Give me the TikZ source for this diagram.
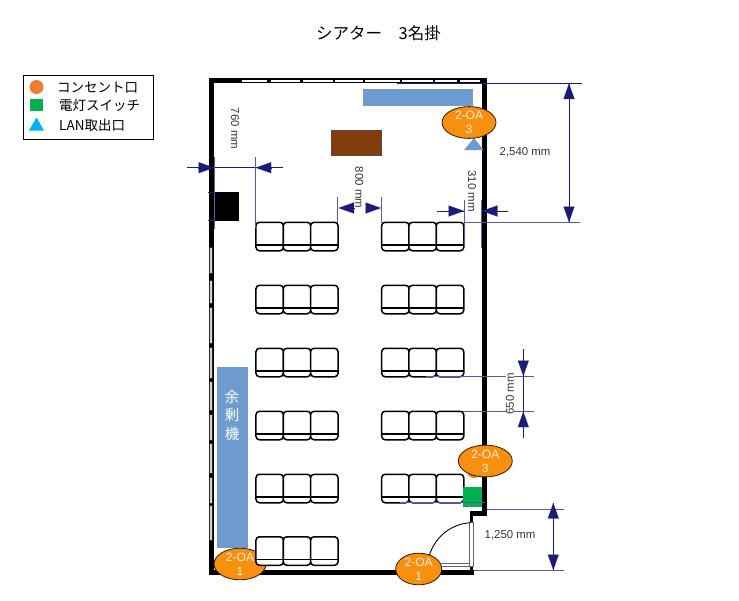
\documentclass[tikz,border=0pt]{standalone}
\usepackage{fontspec}
\setmainfont{Liberation Sans}
\newfontfamily\jpfont{Noto Sans CJK JP}
\usetikzlibrary{arrows.meta,shapes.geometric}
\definecolor{dimnavy}{HTML}{1B1B78}
\definecolor{dimthin}{HTML}{5A5AA0}
\definecolor{planblue}{HTML}{6E9CD0}
\definecolor{oaorange}{HTML}{F7900F}
\definecolor{outletorange}{HTML}{ED7D31}
\definecolor{switchgreen}{HTML}{00B050}
\definecolor{lanblue}{HTML}{00B0F0}
\definecolor{deskbrown}{HTML}{843C0C}
\tikzset{
	wall/.style={black,line width=5pt,line cap=butt},
	winstrip/.style={white,line width=2.6pt},
	sidestrip/.style={draw=black!85,line width=1pt,fill=black!18},
	seat/.style={draw=black,fill=white,line width=1.5pt,rounded corners=3.5pt,minimum width=27.5pt,minimum height=28.5pt,inner sep=0pt,
		path picture={\draw[black,line width=1.5pt]([yshift=6pt]path picture bounding box.south west)--([yshift=6pt]path picture bounding box.south east);}},
	dimline/.style={dimnavy,line width=.8pt},
	extline/.style={dimthin,line width=.7pt},
	dimhead/.style={dimnavy,line width=.1pt,-{Triangle[length=15.5pt,width=11pt]}},
	dimlabel/.style={text=black!80,inner sep=0pt,font=\fontsize{11.4}{12}\selectfont},
	legendlabel/.style={anchor=west,inner sep=0pt,font=\jpfont\fontsize{13.5}{14}\selectfont},
	oa/.style={ellipse,draw=black!80!orange,line width=.8pt,fill=oaorange,text=white!85!orange,inner sep=0pt,align=center,minimum width=#1,minimum height=31pt,font=\fontsize{12}{14}\selectfont},
}
\begin{document}
\begin{tikzpicture}[x=1pt,y=-1pt]
	\useasboundingbox (0,0) rectangle (739,600);
	\node[inner sep=0pt,font=\jpfont\fontsize{16.5}{18}\selectfont](title) at (378.5,33){シアター　3名掛};

	\draw[black,line width=1pt](23.5,75) rectangle (153,139);
	\node[circle,fill=outletorange,inner sep=0pt,minimum size=14pt](legcircle) at (36.5,87){};
	\node[fill=switchgreen,inner sep=0pt,minimum size=12.5pt](legsquare) at (36.5,105){};
	\fill[lanblue] (29,130.5)--(36.5,117.5)--(44,130.5)--cycle;
	\node[legendlabel](legtext1) at (57,87.5){コンセント口};
	\node[legendlabel](legtext2) at (59,105.5){電灯スイッチ};
	\node[legendlabel](legtext3) at (59,125){LAN取出口};

	\draw[wall](211,78)--(211,575);
	\draw[wall](208.5,80.5)--(487,80.5);
	\draw[wall,line width=5.5pt](484.5,78)--(484.5,515.5);
	\draw[wall,line width=5pt](487,513)--(469.5,513);
	\draw[wall,line width=3.5pt](471.7,511)--(471.7,522);
	\draw[wall](208.5,572.5)--(474,572.5);
	\draw[wall,line width=3.5pt](471.7,566)--(471.7,575);

	\foreach \xa/\xb in {242/267,271/300,303/333,335/363,365/400,402/433,435/457,460/480}
		\draw[winstrip](\xa,80.8)--(\xb,80.8);
	\foreach \ya/\yb in {247/273,280/303,307/343,347/378,381/410,414/440,443/473,477/503,505/540}
		\filldraw[sidestrip](209.7,\ya) rectangle (212.3,\yb);
	\filldraw[draw=black!60,line width=.6pt,fill=white](469.5,522) rectangle (473.5,566);
	\draw[black!60,line width=.6pt](438,563.5)--(469.5,563.5);
	\draw[black!60,line width=.6pt](438,566)--(469.5,566);
	\draw[black,line width=.9pt](470.5,522.7) .. controls (450,524) and (433,538) .. (428,560);

	\fill[planblue](363,89) rectangle (473,106);
	\filldraw[draw=black!70,line width=.4pt,fill=deskbrown](331,130) rectangle (381,155);
	\fill[black](215,192) rectangle (239,221);
	\node[fill=planblue,minimum width=31pt,minimum height=181pt,inner sep=0pt](spare) at (232.5,457.5){};
	\node[text=white,inner sep=0pt,align=center,font=\jpfont\fontsize{14.5}{18.5}\selectfont](sparetext) at (232,415.5){余\\剰\\機};

	\node[oa=52pt](oabl) at (240,564){2-OA\\1};

	\foreach \ry in {236.5,299.5,362.5,425.5,488.5,551}
		\foreach \cx in {269.7,297,324.3}
			\node[seat] at (\cx,\ry){};
	\foreach \ry in {236.5,299.5,362.5,425.5,488.5}
		\foreach \cx in {395.4,422.7,450}
			\node[seat] at (\cx,\ry){};

	\coordinate(d1a) at (187,167.7);
	\coordinate(d1b) at (283,167.7);
	\coordinate(d1c) at (198,167.7);
	\coordinate(d1d) at (214,167.7);
	\coordinate(d1e) at (271,167.7);
	\coordinate(d1f) at (255.7,167.7);
	\draw[dimline](d1a)--(d1b);
	\draw[dimhead](d1c)--(d1d);
	\draw[dimhead](d1e)--(d1f);
	\draw[extline](214.5,157)--(214.5,229);
	\draw[extline](255.7,157)--(255.7,228);
	\draw[dimnavy,line width=.7pt](208,192)--(215,192);
	\draw[dimnavy,line width=.7pt](208,220.7)--(215,220.7);
	\node[dimlabel,rotate=-90](d1label) at (235,128.5){760 mm};

	\coordinate(d2a) at (354,208);
	\coordinate(d2b) at (338.5,208);
	\coordinate(d2c) at (365.7,208);
	\coordinate(d2d) at (381,208);
	\draw[dimhead](d2a)--(d2b);
	\draw[dimhead](d2c)--(d2d);
	\draw[extline](337.7,197)--(337.7,223);
	\draw[extline](381.7,197)--(381.7,223);
	\node[dimlabel,rotate=-90](d2label) at (359.3,187.5){800 mm};

	\coordinate(d3a) at (437,211);
	\coordinate(d3b) at (508,211);
	\coordinate(d3c) at (448.5,211);
	\coordinate(d3d) at (464,211);
	\coordinate(d3e) at (497.5,211);
	\coordinate(d3f) at (482,211);
	\draw[dimline](d3a)--(d3d);
	\draw[dimline](d3f)--(d3b);
	\draw[dimhead](d3c)--(d3d);
	\draw[dimhead](d3e)--(d3f);
	\draw[extline](464.3,200)--(464.3,248);
	\draw[extline](481.7,200)--(481.7,248);
	\node[dimlabel,rotate=-90](d3label) at (472,191){310 mm};

	\coordinate(d4a) at (569,83.5);
	\coordinate(d4b) at (569,222);
	\coordinate(d4c) at (569,99);
	\coordinate(d4d) at (569,206);
	\draw[extline,dimnavy](397,83.3)--(582,83.3);
	\draw[extline](465,222)--(580,222);
	\draw[dimline](d4a)--(d4b);
	\draw[dimhead](d4c)--(d4a);
	\draw[dimhead](d4d)--(d4b);
	\node[dimlabel](d4label) at (525,152){2,540 mm};

	\coordinate(d5a) at (523.3,349);
	\coordinate(d5b) at (523.3,438);
	\coordinate(d5c) at (523.3,360.5);
	\coordinate(d5d) at (523.3,376);
	\coordinate(d5e) at (523.3,427.5);
	\coordinate(d5f) at (523.3,411.7);
	\draw[extline](425.7,376)--(534,376);
	\draw[extline](463,411.7)--(534,411.7);
	\draw[dimline](d5a)--(d5b);
	\draw[dimhead](d5c)--(d5d);
	\draw[dimhead](d5e)--(d5f);
	\node[dimlabel,rotate=90,fill=white,inner xsep=1pt](d5label) at (510,394){650 mm};

	\coordinate(d6a) at (553.3,503);
	\coordinate(d6b) at (553.3,570);
	\coordinate(d6c) at (553.3,518.5);
	\coordinate(d6d) at (553.3,554.5);
	\draw[extline](487,509.3)--(564,509.3);
	\draw[extline](474,570)--(564,570);
	\draw[dimline](d6a)--(d6b);
	\draw[dimhead](d6c)--(d6a);
	\draw[dimhead](d6d)--(d6b);
	\node[dimlabel](d6label) at (510,535.7){1,250 mm};

	\fill[planblue](474,138)--(483.5,150)--(464,150)--cycle;
	\node[circle,fill=outletorange,inner sep=0pt,minimum size=14pt](outlet) at (474,471){};
	\node[fill=switchgreen,inner sep=0pt,minimum width=19pt,minimum height=20pt](switch) at (472.5,497){};
	\draw[extline](400,502)--(485,502);

	\node[oa=54pt](oatop) at (469,122.5){2-OA\\3};
	\node[oa=54pt](oamid) at (485.3,461){2-OA\\3};
	\node[oa=46pt](oabot) at (418.7,569){2-OA\\1};
\end{tikzpicture}
\end{document}
